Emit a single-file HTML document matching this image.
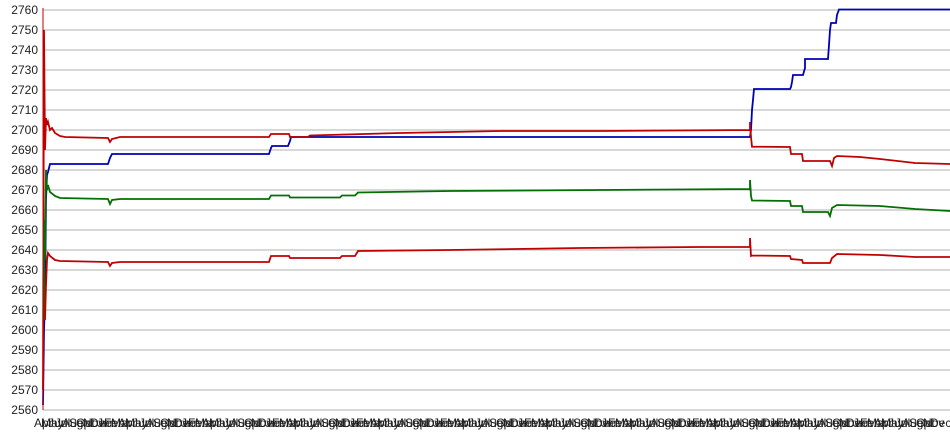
<!DOCTYPE html>
<html><head><meta charset="utf-8"><style>
html,body{margin:0;padding:0;background:#fff;}
svg{display:block;font-family:"Liberation Sans",Arial,sans-serif;}
</style></head><body>
<svg width="950" height="435" viewBox="0 0 950 435">
<g stroke="#c0c0c0" stroke-width="1.3">
<line x1="43" y1="10" x2="950" y2="10"/><line x1="43" y1="30" x2="950" y2="30"/><line x1="43" y1="50" x2="950" y2="50"/><line x1="43" y1="70" x2="950" y2="70"/><line x1="43" y1="90" x2="950" y2="90"/><line x1="43" y1="110" x2="950" y2="110"/><line x1="43" y1="130" x2="950" y2="130"/><line x1="43" y1="150" x2="950" y2="150"/><line x1="43" y1="170" x2="950" y2="170"/><line x1="43" y1="190" x2="950" y2="190"/><line x1="43" y1="210" x2="950" y2="210"/><line x1="43" y1="230" x2="950" y2="230"/><line x1="43" y1="250" x2="950" y2="250"/><line x1="43" y1="270" x2="950" y2="270"/><line x1="43" y1="290" x2="950" y2="290"/><line x1="43" y1="310" x2="950" y2="310"/><line x1="43" y1="330" x2="950" y2="330"/><line x1="43" y1="350" x2="950" y2="350"/><line x1="43" y1="370" x2="950" y2="370"/><line x1="43" y1="390" x2="950" y2="390"/><line x1="43" y1="410" x2="950" y2="410"/>
</g>
<g font-size="12" fill="#222" text-anchor="end">
<text x="38" y="14">2760</text><text x="38" y="34">2750</text><text x="38" y="54">2740</text><text x="38" y="74">2730</text><text x="38" y="94">2720</text><text x="38" y="114">2710</text><text x="38" y="134">2700</text><text x="38" y="154">2690</text><text x="38" y="174">2680</text><text x="38" y="194">2670</text><text x="38" y="214">2660</text><text x="38" y="234">2650</text><text x="38" y="254">2640</text><text x="38" y="274">2630</text><text x="38" y="294">2620</text><text x="38" y="314">2610</text><text x="38" y="334">2600</text><text x="38" y="354">2590</text><text x="38" y="374">2580</text><text x="38" y="394">2570</text><text x="38" y="414">2560</text>
</g>
<g font-size="12" fill="#222">
<text x="34" y="427">Apr</text><text x="41" y="427">May</text><text x="48" y="427">Jun</text><text x="55" y="427">Jul</text><text x="62" y="427">Aug</text><text x="69" y="427">Sep</text><text x="76" y="427">Oct</text><text x="83" y="427">Nov</text><text x="90" y="427">Dec</text><text x="97" y="427">Jan</text><text x="104" y="427">Feb</text><text x="111" y="427">Mar</text>
<text x="118" y="427">Apr</text><text x="125" y="427">May</text><text x="132" y="427">Jun</text><text x="139" y="427">Jul</text><text x="146" y="427">Aug</text><text x="153" y="427">Sep</text><text x="160" y="427">Oct</text><text x="167" y="427">Nov</text><text x="174" y="427">Dec</text><text x="181" y="427">Jan</text><text x="188" y="427">Feb</text><text x="195" y="427">Mar</text>
<text x="202" y="427">Apr</text><text x="209" y="427">May</text><text x="216" y="427">Jun</text><text x="223" y="427">Jul</text><text x="230" y="427">Aug</text><text x="237" y="427">Sep</text><text x="244" y="427">Oct</text><text x="251" y="427">Nov</text><text x="258" y="427">Dec</text><text x="265" y="427">Jan</text><text x="272" y="427">Feb</text><text x="279" y="427">Mar</text>
<text x="286" y="427">Apr</text><text x="293" y="427">May</text><text x="300" y="427">Jun</text><text x="307" y="427">Jul</text><text x="314" y="427">Aug</text><text x="321" y="427">Sep</text><text x="328" y="427">Oct</text><text x="335" y="427">Nov</text><text x="342" y="427">Dec</text><text x="349" y="427">Jan</text><text x="356" y="427">Feb</text><text x="363" y="427">Mar</text>
<text x="370" y="427">Apr</text><text x="377" y="427">May</text><text x="384" y="427">Jun</text><text x="391" y="427">Jul</text><text x="398" y="427">Aug</text><text x="405" y="427">Sep</text><text x="412" y="427">Oct</text><text x="419" y="427">Nov</text><text x="426" y="427">Dec</text><text x="433" y="427">Jan</text><text x="440" y="427">Feb</text><text x="447" y="427">Mar</text>
<text x="454" y="427">Apr</text><text x="461" y="427">May</text><text x="468" y="427">Jun</text><text x="475" y="427">Jul</text><text x="482" y="427">Aug</text><text x="489" y="427">Sep</text><text x="496" y="427">Oct</text><text x="503" y="427">Nov</text><text x="510" y="427">Dec</text><text x="517" y="427">Jan</text><text x="524" y="427">Feb</text><text x="531" y="427">Mar</text>
<text x="538" y="427">Apr</text><text x="545" y="427">May</text><text x="552" y="427">Jun</text><text x="559" y="427">Jul</text><text x="566" y="427">Aug</text><text x="573" y="427">Sep</text><text x="580" y="427">Oct</text><text x="587" y="427">Nov</text><text x="594" y="427">Dec</text><text x="601" y="427">Jan</text><text x="608" y="427">Feb</text><text x="615" y="427">Mar</text>
<text x="622" y="427">Apr</text><text x="629" y="427">May</text><text x="636" y="427">Jun</text><text x="643" y="427">Jul</text><text x="650" y="427">Aug</text><text x="657" y="427">Sep</text><text x="664" y="427">Oct</text><text x="671" y="427">Nov</text><text x="678" y="427">Dec</text><text x="685" y="427">Jan</text><text x="692" y="427">Feb</text><text x="699" y="427">Mar</text>
<text x="706" y="427">Apr</text><text x="713" y="427">May</text><text x="720" y="427">Jun</text><text x="727" y="427">Jul</text><text x="734" y="427">Aug</text><text x="741" y="427">Sep</text><text x="748" y="427">Oct</text><text x="755" y="427">Nov</text><text x="762" y="427">Dec</text><text x="769" y="427">Jan</text><text x="776" y="427">Feb</text><text x="783" y="427">Mar</text>
<text x="790" y="427">Apr</text><text x="797" y="427">May</text><text x="804" y="427">Jun</text><text x="811" y="427">Jul</text><text x="818" y="427">Aug</text><text x="825" y="427">Sep</text><text x="832" y="427">Oct</text><text x="839" y="427">Nov</text><text x="846" y="427">Dec</text><text x="853" y="427">Jan</text><text x="860" y="427">Feb</text><text x="867" y="427">Mar</text>
<text x="874" y="427">Apr</text><text x="881" y="427">May</text><text x="888" y="427">Jun</text><text x="895" y="427">Jul</text><text x="902" y="427">Aug</text><text x="909" y="427">Sep</text><text x="916" y="427">Oct</text><text x="923" y="427">Nov</text><text x="930" y="427">Dec</text>
</g>
<g fill="none" stroke-width="1.8" stroke-linejoin="miter">
<polyline stroke="#0000b8" points="43,405 44,330 45,300 46,200 47,175 48,172 49,168 50,164 108,164 110,158 112,154 269,154 271,148 272,146 288,146 290,141 291,137 750,137 751,130 752,110 753,100 754,89 790,89 791,87 792,82 793,75 803,75 805,68 805,59 828,59 829,45 830,30 831,23 836,23 837,15 839,9.5 950,9.5"/>
<polyline stroke="#c00000" points="43,390 44,30 45,150 46,118 47,125 48,122 50,130 52,128 55,133 60,136 65,137 108,138 110,142 112,139 120,137 269,137 271,134 289,134 290,137 308,137 310,135.5 400,133 500,131 600,131 750,130 750,122 751,137 752,146.7 790,147 791,154 802,154 803,161 830,161 832,166 834,158 837,156 860,157 880,159 915,163 950,164"/>
<polyline stroke="#007000" points="44,320 44.5,220 45,260 46,170 47,190 48,185 50,192 55,196 60,198 108,199 110,204 112,200 120,199 269,199 271,195.5 289,195.5 290,197.5 340,197.5 342,195.5 355,195.5 358,192.5 450,191 750,189 750,180 751,196 752,200.5 790,201 791,206 802,206 803,212 828,212 830,216 832,208 837,205 880,206 915,209 950,211"/>
<polyline stroke="#c00000" points="45,320 46,285 47,260 48,253 50,256 55,260 60,261 108,262 110,266 112,263 120,262 269,262 271,256 289,256 290,258 340,258 342,256 355,256 358,251 450,250 580,248 700,247 750,247 750,238 751,256 752,255.5 790,256 791,259 802,260 803,263 830,263 832,258 837,254 880,255 915,257 950,257"/>
</g>
<line x1="43" y1="8" x2="43" y2="410" stroke="#c00000" stroke-width="1"/>
</svg>
</body></html>
